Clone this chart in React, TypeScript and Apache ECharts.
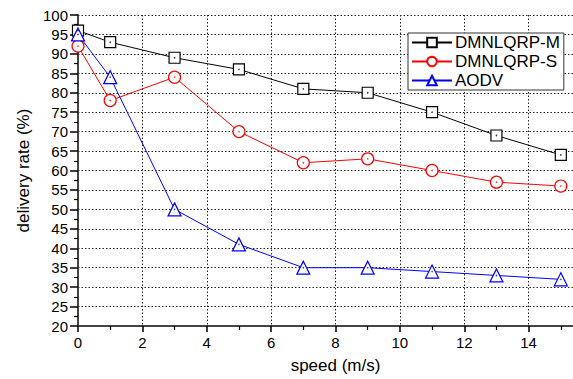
import React, { useEffect, useRef } from "react";
import * as echarts from "echarts";

const speeds = [0, 1, 3, 5, 7, 9, 11, 13, 15];
const dmnlqrpM = [96, 93, 89, 86, 81, 80, 75, 69, 64];
const dmnlqrpS = [92, 78, 84, 70, 62, 63, 60, 57, 56];
const aodv = [95, 84, 50, 41, 35, 35, 34, 33, 32];
const seriesNames = ["DMNLQRP-M", "DMNLQRP-S", "AODV"];
const colors = ["#000000", "#ff0000", "#0000ff"];

const FONT = "'Liberation Sans', Arial, sans-serif";

export default function App() {
  const ref = useRef<HTMLDivElement>(null);
  useEffect(() => {
    if (!ref.current) return;
    const chart = echarts.init(ref.current, undefined, { renderer: "svg" });
    const datasets = [dmnlqrpM, dmnlqrpS, aodv];
    const symbols = ["rect", "circle", "triangle"];
    const sizes = [11, 12, 13];
    const lines = datasets.map((d, i) => ({
      name: seriesNames[i],
      type: "line",
      data: speeds.map((x, j) => [x, d[j]]),
      symbol: symbols[i],
      symbolSize: sizes[i],
      lineStyle: { color: colors[i], width: 1 },
      itemStyle: { color: "#ffffff", borderColor: colors[i], borderWidth: 1.2 },
      z: 3,
    }));
    const dots = datasets.map((d, i) => ({
      name: seriesNames[i] + "-dot",
      type: "scatter",
      data: speeds.map((x, j) => [x, d[j]]),
      symbol: "circle",
      symbolSize: 1.6,
      itemStyle: { color: colors[i] },
      silent: true,
      z: 4,
    }));
    chart.setOption({
      animation: false,
      backgroundColor: "#ffffff",
      textStyle: { fontFamily: FONT },
      grid: { left: 78, top: 15, right: 7, bottom: 48, containLabel: false },
      legend: {
        data: seriesNames,
        orient: "vertical",
        left: 408,
        top: 33,
        itemWidth: 40,
        itemHeight: 12,
        itemGap: 2,
        padding: [1, 4, 1, 3],
        borderColor: "#333333",
        borderWidth: 1,
        backgroundColor: "#ffffff",
        textStyle: { fontSize: 17, color: "#000", fontFamily: FONT, padding: [0, 0, 0, -2] },
      },
      xAxis: {
        type: "value",
        min: 0,
        max: 16,
        interval: 2,
        name: "speed (m/s)",
        nameLocation: "middle",
        nameGap: 31,
        nameTextStyle: { fontSize: 17, color: "#000", fontFamily: FONT },
        axisLine: { show: true, onZero: false, lineStyle: { color: "#444", width: 2 } },
        axisTick: { show: true, length: 6, lineStyle: { color: "#000", width: 1.5 } },
        minorTick: { show: true, splitNumber: 2, length: 4, lineStyle: { color: "#000", width: 1.2 } },
        axisLabel: { fontSize: 15, color: "#000", margin: 9, fontFamily: FONT, showMaxLabel: false },
        splitLine: { show: true, lineStyle: { color: "#222", width: 1, type: [1.5, 2] } },
      },
      yAxis: {
        type: "value",
        min: 20,
        max: 100,
        interval: 5,
        name: "delivery rate (%)",
        nameLocation: "middle",
        nameGap: 45,
        nameTextStyle: { fontSize: 17, color: "#000", fontFamily: FONT },
        axisLine: { show: true, onZero: false, lineStyle: { color: "#444", width: 2 } },
        axisTick: { show: true, length: 8, lineStyle: { color: "#000", width: 1.5 } },
        minorTick: { show: true, splitNumber: 2, length: 4, lineStyle: { color: "#000", width: 1.2 } },
        axisLabel: { fontSize: 15, color: "#000", margin: 10, fontFamily: FONT },
        splitLine: { show: true, lineStyle: { color: "#222", width: 1, type: [1.5, 2] } },
      },
      series: [...lines, ...dots],
    });
    return () => chart.dispose();
  }, []);
  return (
    <div style={{ position: "fixed", left: 0, top: 0, width: 573, height: 379, overflow: "hidden", background: "#fff" }}>
      <div ref={ref} style={{ width: 600, height: 379 }} />
    </div>
  );
}
